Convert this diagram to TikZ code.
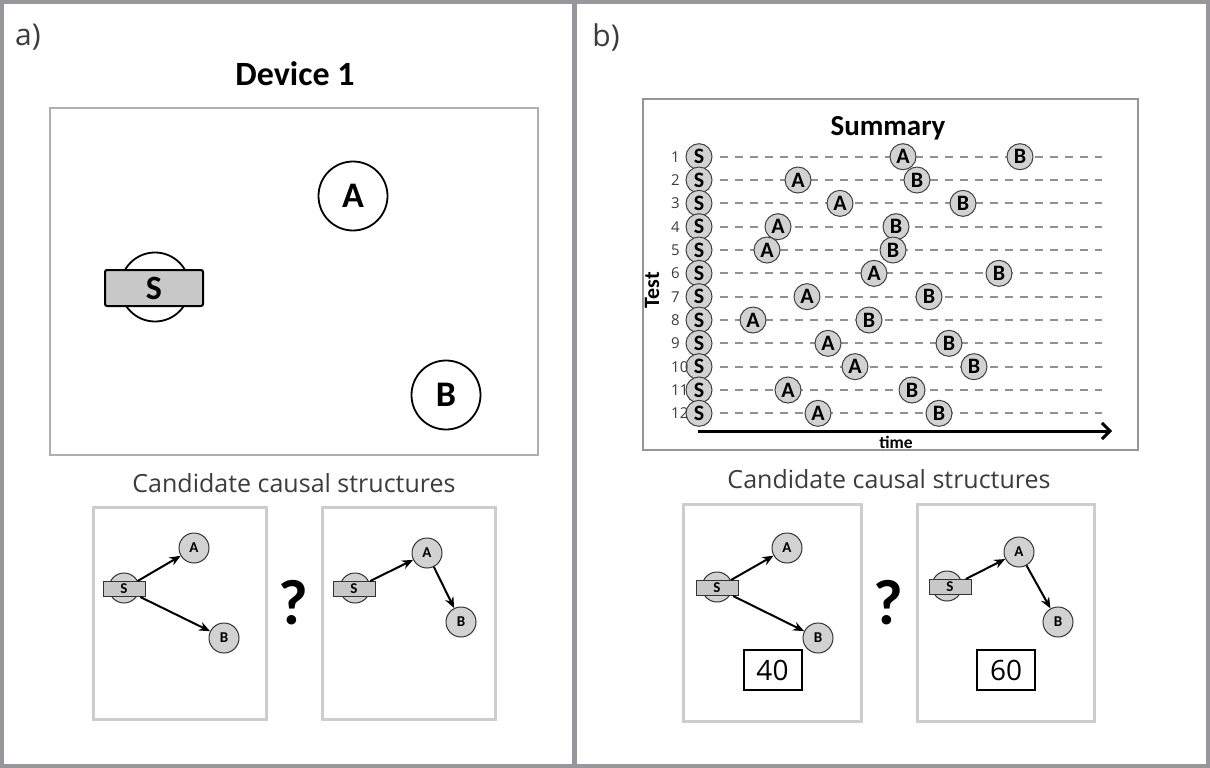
\documentclass[tikz,border=0pt]{standalone}
\usepackage{fontspec}
\newfontfamily\osans{Open Sans}
\newfontfamily\carl{Carlito}
\usetikzlibrary{arrows.meta}
\definecolor{framegray}{RGB}{150,150,155}
\definecolor{devgray}{RGB}{175,175,175}
\definecolor{sumgray}{RGB}{150,150,150}
\definecolor{candgray}{RGB}{205,205,205}
\definecolor{nodefill}{RGB}{210,210,210}
\definecolor{rectfill}{RGB}{200,200,200}
\definecolor{dashgray}{RGB}{145,145,145}
\definecolor{txtgray}{RGB}{60,60,60}
\tikzset{
  panellabel/.style={font=\osans\fontsize{30}{36}\selectfont, text=txtgray},
  candtitle/.style={font=\osans\fontsize{25}{30}\selectfont, text=txtgray},
  boldtitle/.style={font=\carl\bfseries\fontsize{34}{40}\selectfont},
  devbox/.style={draw=devgray, line width=2pt, minimum width=488pt, minimum height=347pt, inner sep=0pt},
  devcirc/.style={circle, draw, fill=white, line width=1.8pt, minimum size=69pt, inner sep=0pt, font=\carl\bfseries\fontsize{36}{40}\selectfont},
  devrect/.style={draw, fill=rectfill, line width=2pt, rounded corners=2pt, minimum width=98pt, minimum height=36pt, inner sep=0pt, font=\carl\bfseries\fontsize{34}{40}\selectfont},
  candbox/.style={draw=candgray, line width=3pt, inner sep=0pt},
  gcirc/.style={circle, draw=black!80, fill=nodefill, line width=1pt, minimum size=30pt, inner sep=0pt, font=\carl\bfseries\fontsize{15}{17}\selectfont},
  grect/.style={draw=black!80, fill=rectfill, line width=1pt, minimum width=42pt, minimum height=15pt, inner sep=0pt, font=\carl\bfseries\fontsize{15}{17}\selectfont},
  garrow/.style={line width=2pt, -{Stealth[length=11pt,width=9pt]}},
  qmark/.style={font=\carl\bfseries\fontsize{64}{70}\selectfont},
  numbox/.style={draw, line width=2pt, minimum width=58pt, minimum height=40pt, inner sep=0pt, font=\osans\fontsize{28}{30}\selectfont},
  sumbox/.style={draw=sumgray, line width=2pt, minimum width=495pt, minimum height=351pt, inner sep=0pt},
  chartc/.style={circle, draw=black!75, fill=nodefill, line width=1pt, minimum size=26pt, inner sep=0pt, font=\carl\bfseries\fontsize{22}{24}\selectfont},
  dashline/.style={draw=dashgray, line width=2pt, dash pattern=on 8.5pt off 6.5pt},
  rownum/.style={font=\osans\fontsize{15}{18}\selectfont, text=txtgray, inner sep=0pt},
}
\begin{document}
\begin{tikzpicture}[x=1pt,y=-1pt]
\useasboundingbox (0,0) rectangle (1210,768);
\fill[white] (0,0) rectangle (1210,768);
% outer frame and divider
\draw[framegray, line width=4pt] (2,2) rectangle (1208,766);
\draw[framegray, line width=5pt] (574.5,0) -- (574.5,768);

% ---------- panel a ----------
\node[panellabel] (la) at (28,37) {a)};
\node[boldtitle] (dev) at (295,74) {Device 1};
\node[devbox] (devb) at (294,281.5) {};
\node[devcirc] (dA) at (353,196) {A};
\node[devcirc] (dB) at (446,395) {B};
\node[devcirc] (dSc) at (155,287) {};
\node[devrect] (dS) at (154,288) {S};

\node[candtitle] (ctl) at (294,483) {Candidate causal structures};
\node[candbox, minimum width=173pt, minimum height=212pt] (c1) at (179.5,613.5) {};
\node[candbox, minimum width=173pt, minimum height=212pt] (c2) at (408.5,613.5) {};
\node[qmark] (q1) at (293,603) {?};

\node[gcirc] (g1Sc) at (124,588) {};
\node[grect] (g1S) at (124,589) {S};
\node[gcirc] (g1A) at (194,548) {A};
\node[gcirc] (g1B) at (224,638) {B};
\draw[garrow] (g1S) -- (g1A);
\draw[garrow] (g1S) -- (g1B);

\node[gcirc] (g2Sc) at (355,588) {};
\node[grect] (g2S) at (354,589) {S};
\node[gcirc] (g2A) at (427,553) {A};
\node[gcirc] (g2B) at (461,622) {B};
\draw[garrow] (g2S) -- (g2A);
\draw[garrow] (g2A) -- (g2B);

% ---------- panel b ----------
\node[panellabel] (lb) at (606,37) {b)};
\node[sumbox] (sumb) at (890,274.5) {};
\node[font=\carl\bfseries\fontsize{29}{32}\selectfont] (sumt) at (888,128) {Summary};
\node[font=\carl\bfseries\fontsize{22}{24}\selectfont, rotate=90] (testl) at (652,290) {Test};

\foreach \i/\xa/\xb in {1/903/1020, 2/798/917, 3/840/963, 4/778/896, 5/767/893, 6/874/999, 7/807/929, 8/753/869, 9/828/949, 10/855/974, 11/788/912, 12/818/939} {
  \pgfmathsetmacro\yy{156.7+(\i-1)*23.33}
  \coordinate (E\i) at (1102,\yy);
  \node[chartc] (S\i) at (699,\yy) {S};
  \draw[dashline, shorten <=7pt] (S\i) -- (E\i);
  \node[chartc] (A\i) at (\xa,\yy) {A};
  \node[chartc] (B\i) at (\xb,\yy) {B};
  \node[rownum, anchor=west] (N\i) at (671,\yy) {\i};
}
\coordinate (T0) at (698,431);
\coordinate (T1) at (1112,431);
\draw[line width=3pt, -{Straight Barb[length=8pt,width=16pt,line width=3pt]}] (T0) -- (T1);
\node[font=\carl\bfseries\fontsize{17.5}{20}\selectfont] (timel) at (896,442) {time};

\node[candtitle] (ctr) at (889,479) {Candidate causal structures};
\node[candbox, minimum width=178pt, minimum height=217pt] (c3) at (772,613) {};
\node[candbox, minimum width=177pt, minimum height=217pt] (c4) at (1005.5,613) {};
\node[qmark] (q2) at (888,603) {?};

\node[gcirc] (g3Sc) at (717,587) {};
\node[grect] (g3S) at (717,588) {S};
\node[gcirc] (g3A) at (787,548) {A};
\node[gcirc] (g3B) at (818,638) {B};
\draw[garrow] (g3S) -- (g3A);
\draw[garrow] (g3S) -- (g3B);
\node[numbox] (n40) at (772.5,670) {40};

\node[gcirc] (g4Sc) at (947,586) {};
\node[grect] (g4S) at (950,587) {S};
\node[gcirc] (g4A) at (1019,552) {A};
\node[gcirc] (g4B) at (1058,622) {B};
\draw[garrow] (g4S) -- (g4A);
\draw[garrow] (g4A) -- (g4B);
\node[numbox] (n60) at (1006,670) {60};
\end{tikzpicture}
\end{document}
